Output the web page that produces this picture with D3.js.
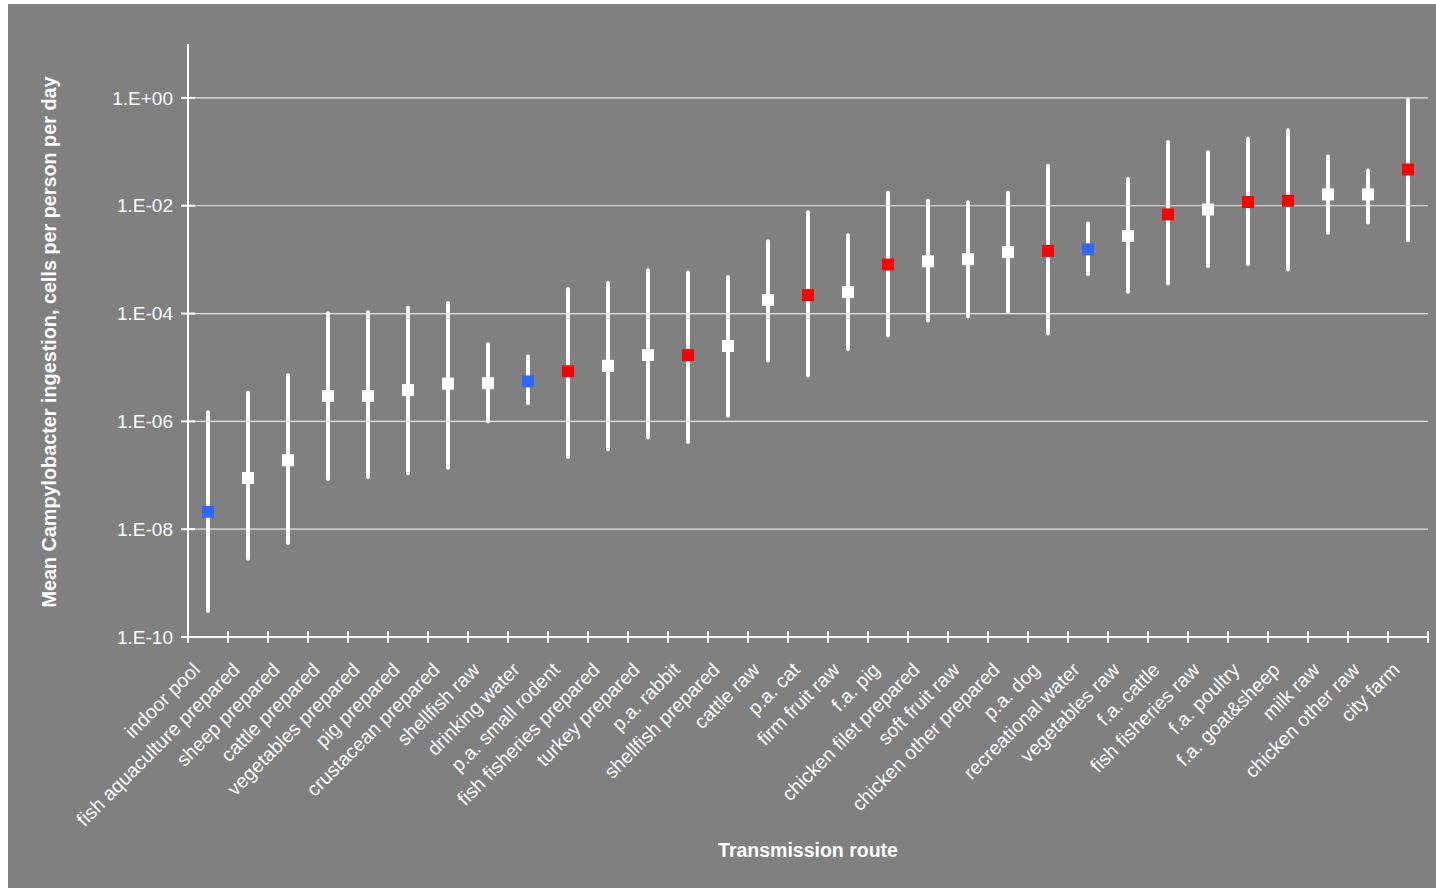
<!DOCTYPE html>
<html>
<head>
<meta charset="utf-8">
<script src="https://cdn.jsdelivr.net/npm/d3@7/dist/d3.min.js"></script>
<style>
  html, body { margin: 0; padding: 0; background: #ffffff; }
  svg { display: block; font-family: "Liberation Sans", Arial, sans-serif; }
</style>
</head>
<body>
<svg id="chart" width="1436" height="888"></svg>
<script>
// Transmission routes, ordered by mean ingestion
const categories = [
  "indoor pool", "fish aquaculture prepared", "sheep prepared", "cattle prepared",
  "vegetables prepared", "pig prepared", "crustacean prepared", "shellfish raw",
  "drinking water", "p.a. small rodent", "fish fisheries prepared", "turkey prepared",
  "p.a. rabbit", "shellfish prepared", "cattle raw", "p.a. cat", "firm fruit raw",
  "f.a. pig", "chicken filet prepared", "soft fruit raw", "chicken other prepared",
  "p.a. dog", "recreational water", "vegetables raw", "f.a. cattle", "fish fisheries raw",
  "f.a. poultry", "f.a. goat&sheep", "milk raw", "chicken other raw", "city farm"
];

// Mean ingestion (cells per person per day)
const meanValues = [
  2.1e-8, 8.9e-8, 1.9e-7, 2.95e-6, 2.95e-6, 3.8e-6, 5.0e-6, 5.1e-6,
  5.5e-6, 8.5e-6, 1.07e-5, 1.7e-5, 1.7e-5, 2.5e-5, 1.78e-4, 2.2e-4,
  2.5e-4, 8.1e-4, 9.3e-4, 1.02e-3, 1.38e-3, 1.45e-3, 1.55e-3, 2.75e-3,
  6.9e-3, 8.5e-3, 1.17e-2, 1.23e-2, 1.62e-2, 1.62e-2, 4.7e-2
];

// Lower bound of the uncertainty interval
const lowerValues = [
  2.8e-10, 2.6e-9, 5.1e-9, 7.8e-8, 8.5e-8, 1.0e-7, 1.26e-7, 9.1e-7,
  2.0e-6, 2.0e-7, 2.8e-7, 4.6e-7, 3.8e-7, 1.17e-6, 1.23e-5, 6.5e-6,
  2.0e-5, 3.6e-5, 6.8e-5, 8.1e-5, 9.8e-5, 3.9e-5, 4.9e-4, 2.3e-4,
  3.3e-4, 6.9e-4, 7.6e-4, 6.0e-4, 2.9e-3, 4.5e-3, 2.1e-3
];

// Upper bound of the uncertainty interval
const upperValues = [
  1.6e-6, 3.7e-6, 7.8e-6, 1.1e-4, 1.15e-4, 1.4e-4, 1.7e-4, 2.95e-5,
  1.74e-5, 3.1e-4, 4.0e-4, 6.9e-4, 6.3e-4, 5.2e-4, 2.4e-3, 8.3e-3,
  3.1e-3, 1.9e-2, 1.35e-2, 1.26e-2, 1.9e-2, 6.0e-2, 5.1e-3, 3.4e-2,
  0.166, 0.107, 0.19, 0.275, 8.9e-2, 4.9e-2, 1.0
];

// Route group: food = white, animal contact = red, water = blue
const routeGroups = [
  "water", "food", "food", "food", "food", "food", "food", "food",
  "water", "animal", "food", "food", "animal", "food", "food", "animal",
  "food", "animal", "food", "food", "food", "animal", "water", "food",
  "animal", "food", "animal", "animal", "food", "food", "animal"
];

const yTickValues = [1e0, 1e-2, 1e-4, 1e-6, 1e-8, 1e-10];
const yTickLabels = ["1.E+00", "1.E-02", "1.E-04", "1.E-06", "1.E-08", "1.E-10"];

const groupColor = { food: "#ffffff", animal: "#ff0000", water: "#3366ff" };

const W = 1436, H = 888;
const plot = { left: 188, right: 1428, top: 44, bottom: 637 };

const svg = d3.select("#chart");

// panel background
svg.append("rect")
  .attr("x", 8).attr("y", 4)
  .attr("width", W - 8).attr("height", H - 4)
  .attr("fill", "#808080");

const x = d3.scaleBand()
  .domain(categories)
  .range([plot.left, plot.right])
  .padding(0);

const y = d3.scaleLog()
  .domain([1e-10, 10])
  .range([plot.bottom, plot.top]);

// horizontal gridlines
svg.append("g")
  .selectAll("line")
  .data(yTickValues.filter(v => v > 1e-10))
  .join("line")
  .attr("x1", plot.left).attr("x2", plot.right)
  .attr("y1", d => y(d)).attr("y2", d => y(d))
  .attr("stroke", "#e4e4e4")
  .attr("stroke-width", 1.2);

// y axis
const yAxis = svg.append("g");
yAxis.append("line")
  .attr("x1", plot.left).attr("x2", plot.left)
  .attr("y1", y(10)).attr("y2", y(1e-10))
  .attr("stroke", "#ffffff").attr("stroke-width", 2);
yAxis.selectAll("line.tick")
  .data(yTickValues)
  .join("line")
  .attr("class", "tick")
  .attr("x1", plot.left - 7).attr("x2", plot.left + 7)
  .attr("y1", d => y(d)).attr("y2", d => y(d))
  .attr("stroke", "#ffffff").attr("stroke-width", 2);
yAxis.selectAll("text")
  .data(yTickValues)
  .join("text")
  .attr("x", plot.left - 15)
  .attr("y", d => y(d))
  .attr("dy", "0.35em")
  .attr("text-anchor", "end")
  .attr("fill", "#ffffff")
  .attr("font-size", 19)
  .text((d, i) => yTickLabels[i]);

// x axis with ticks on category boundaries
const xAxis = svg.append("g");
xAxis.append("line")
  .attr("x1", plot.left).attr("x2", plot.right)
  .attr("y1", plot.bottom).attr("y2", plot.bottom)
  .attr("stroke", "#ffffff").attr("stroke-width", 2);
const boundaries = categories.map(c => x(c)).concat([x(categories[categories.length - 1]) + x.bandwidth()]);
xAxis.selectAll("line.tick")
  .data(boundaries)
  .join("line")
  .attr("class", "tick")
  .attr("x1", d => d).attr("x2", d => d)
  .attr("y1", plot.bottom - 6).attr("y2", plot.bottom + 6)
  .attr("stroke", "#ffffff").attr("stroke-width", 2);
xAxis.selectAll("text")
  .data(categories)
  .join("text")
  .attr("transform", d => `translate(${x(d) + x.bandwidth() / 2 - 7},${plot.bottom + 34}) rotate(-45)`)
  .attr("text-anchor", "end")
  .attr("fill", "#ffffff")
  .attr("font-size", 19.5)
  .text(d => d);

// uncertainty whiskers
const cap = 2;
svg.append("g")
  .selectAll("line")
  .data(categories)
  .join("line")
  .attr("x1", d => x(d) + x.bandwidth() / 2)
  .attr("x2", d => x(d) + x.bandwidth() / 2)
  .attr("y1", (d, i) => y(upperValues[i]) + cap)
  .attr("y2", (d, i) => y(lowerValues[i]) - cap)
  .attr("stroke", "#ffffff")
  .attr("stroke-width", 4)
  .attr("stroke-linecap", "round");

// mean markers
const m = 12;
svg.append("g")
  .selectAll("rect")
  .data(categories)
  .join("rect")
  .attr("x", d => x(d) + x.bandwidth() / 2 - m / 2)
  .attr("y", (d, i) => y(meanValues[i]) - m / 2)
  .attr("width", m).attr("height", m)
  .attr("fill", (d, i) => groupColor[routeGroups[i]]);

// axis titles
svg.append("text")
  .attr("transform", `translate(56,342) rotate(-90)`)
  .attr("text-anchor", "middle")
  .attr("fill", "#ffffff")
  .attr("font-size", 19.8)
  .attr("font-weight", "bold")
  .text("Mean Campylobacter ingestion, cells per person per day");

svg.append("text")
  .attr("x", (plot.left + plot.right) / 2)
  .attr("y", 857)
  .attr("text-anchor", "middle")
  .attr("fill", "#ffffff")
  .attr("font-size", 19.5)
  .attr("font-weight", "bold")
  .text("Transmission route");
</script>
</body>
</html>
